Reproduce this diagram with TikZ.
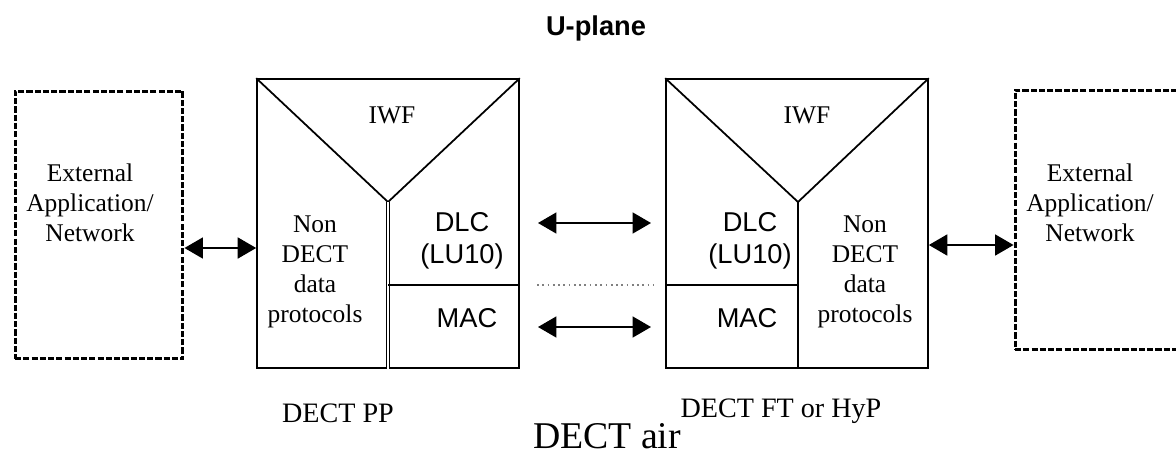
\documentclass[tikz,border=0pt]{standalone}
\usepackage{fontspec}
\setmainfont{Liberation Serif}
\setsansfont{Liberation Sans}
\usetikzlibrary{arrows.meta}
\usetikzlibrary{calc}

\begin{document}
\begin{tikzpicture}[x=0.02cm, y=-0.02cm,
    stack/.style={draw, line width=1pt, inner sep=0pt, minimum width=5.24cm, minimum height=5.78cm},
    extbox/.style={draw, line width=1.7pt, dash pattern=on 3.5pt off 1.2pt, inner sep=0pt},
    serif/.style={font=\fontsize{14.5}{17}\selectfont, align=center},
    sans/.style={font=\sffamily\fontsize{15.5}{18}\selectfont, align=center},
    duplex/.style={{Triangle[length=10.5pt,width=12pt]}-{Triangle[length=10.5pt,width=12pt]}, line width=0.8pt}]

            \useasboundingbox (0,0) rectangle (1176,457);

            % Title
            \node[font=\sffamily\bfseries\fontsize{15.5}{18}\selectfont] (title) at (596,28) {U-plane};

            % External application boxes
            \node[extbox, minimum width=3.36cm, minimum height=5.36cm] (extL) at (99,225) {};
            \node[serif] (extLtxt) at (90,203) {External\\Application/\\Network};
            \node[extbox, minimum width=3.4cm, minimum height=5.2cm] (extR) at (1100,220) {};
            \node[serif] (extRtxt) at (1090,203) {External\\Application/\\Network};

            % Protocol stack of the PP
            \node[stack] (pp) at (388,223.5) {};
            \coordinate (yPP) at (388,202);
            \coordinate (mPP) at (388,285);
            \draw[line width=1pt] (pp.north west) -- (yPP) -- (pp.north east);
            \draw[line width=0.6pt, double, double distance=0.9pt] (yPP) -- (yPP |- pp.south);
            \draw[line width=1pt] (mPP) -- (mPP -| pp.east);
            \node[serif] (iwfPP) at (392,115) {IWF};
            \node[serif] (nonPP) at (315,272) {Non\\DECT\\data\\protocols};
            \node[sans] (dlcPP) at (462,241) {DLC\\(LU10)};
            \node[sans] (macPP) at (467,318) {MAC};

            % Protocol stack of the FT
            \node[stack] (ft) at (797,223.5) {};
            \coordinate (yFT) at (798,202);
            \coordinate (mFT) at (798,285);
            \draw[line width=1pt] (ft.north west) -- (yFT) -- (ft.north east);
            \draw[line width=1pt] (yFT) -- (yFT |- ft.south);
            \draw[line width=1pt] (mFT) -- (mFT -| ft.west);
            \node[serif] (iwfFT) at (807,115) {IWF};
            \node[serif] (nonFT) at (865,272) {Non\\DECT\\data\\protocols};
            \node[sans] (dlcFT) at (750,241) {DLC\\(LU10)};
            \node[sans] (macFT) at (747,318) {MAC};

            % Links
            \coordinate (aL) at (0,248);
            \coordinate (aR) at (0,245);
            \draw[duplex] (extL.east |- aL) -- (pp.west |- aL);
            \draw[duplex] (ft.east |- aR) -- (extR.west |- aR);

            \coordinate (dlcA) at (538,223);
            \coordinate (dlcB) at (651,223);
            \coordinate (macA) at (538,327);
            \coordinate (macB) at (651,327);
            \coordinate (airA) at (537,285);
            \coordinate (airB) at (653,285);
            \draw[duplex] (dlcA) -- (dlcB);
            \draw[duplex] (macA) -- (macB);
            \draw[gray, line width=0.6pt, dash pattern=on 1pt off 2pt] (airA) -- (airB);

            % Names
            \node[font=\fontsize{16}{19}\selectfont] (ppName) at (338,413) {DECT PP};
            \node[font=\fontsize{16}{19}\selectfont] (ftName) at (781,411) {DECT FT or HyP};
            \node[font=\fontsize{21.5}{25}\selectfont] (airName) at (607,436) {DECT air};

        \end{tikzpicture}
\end{document}
